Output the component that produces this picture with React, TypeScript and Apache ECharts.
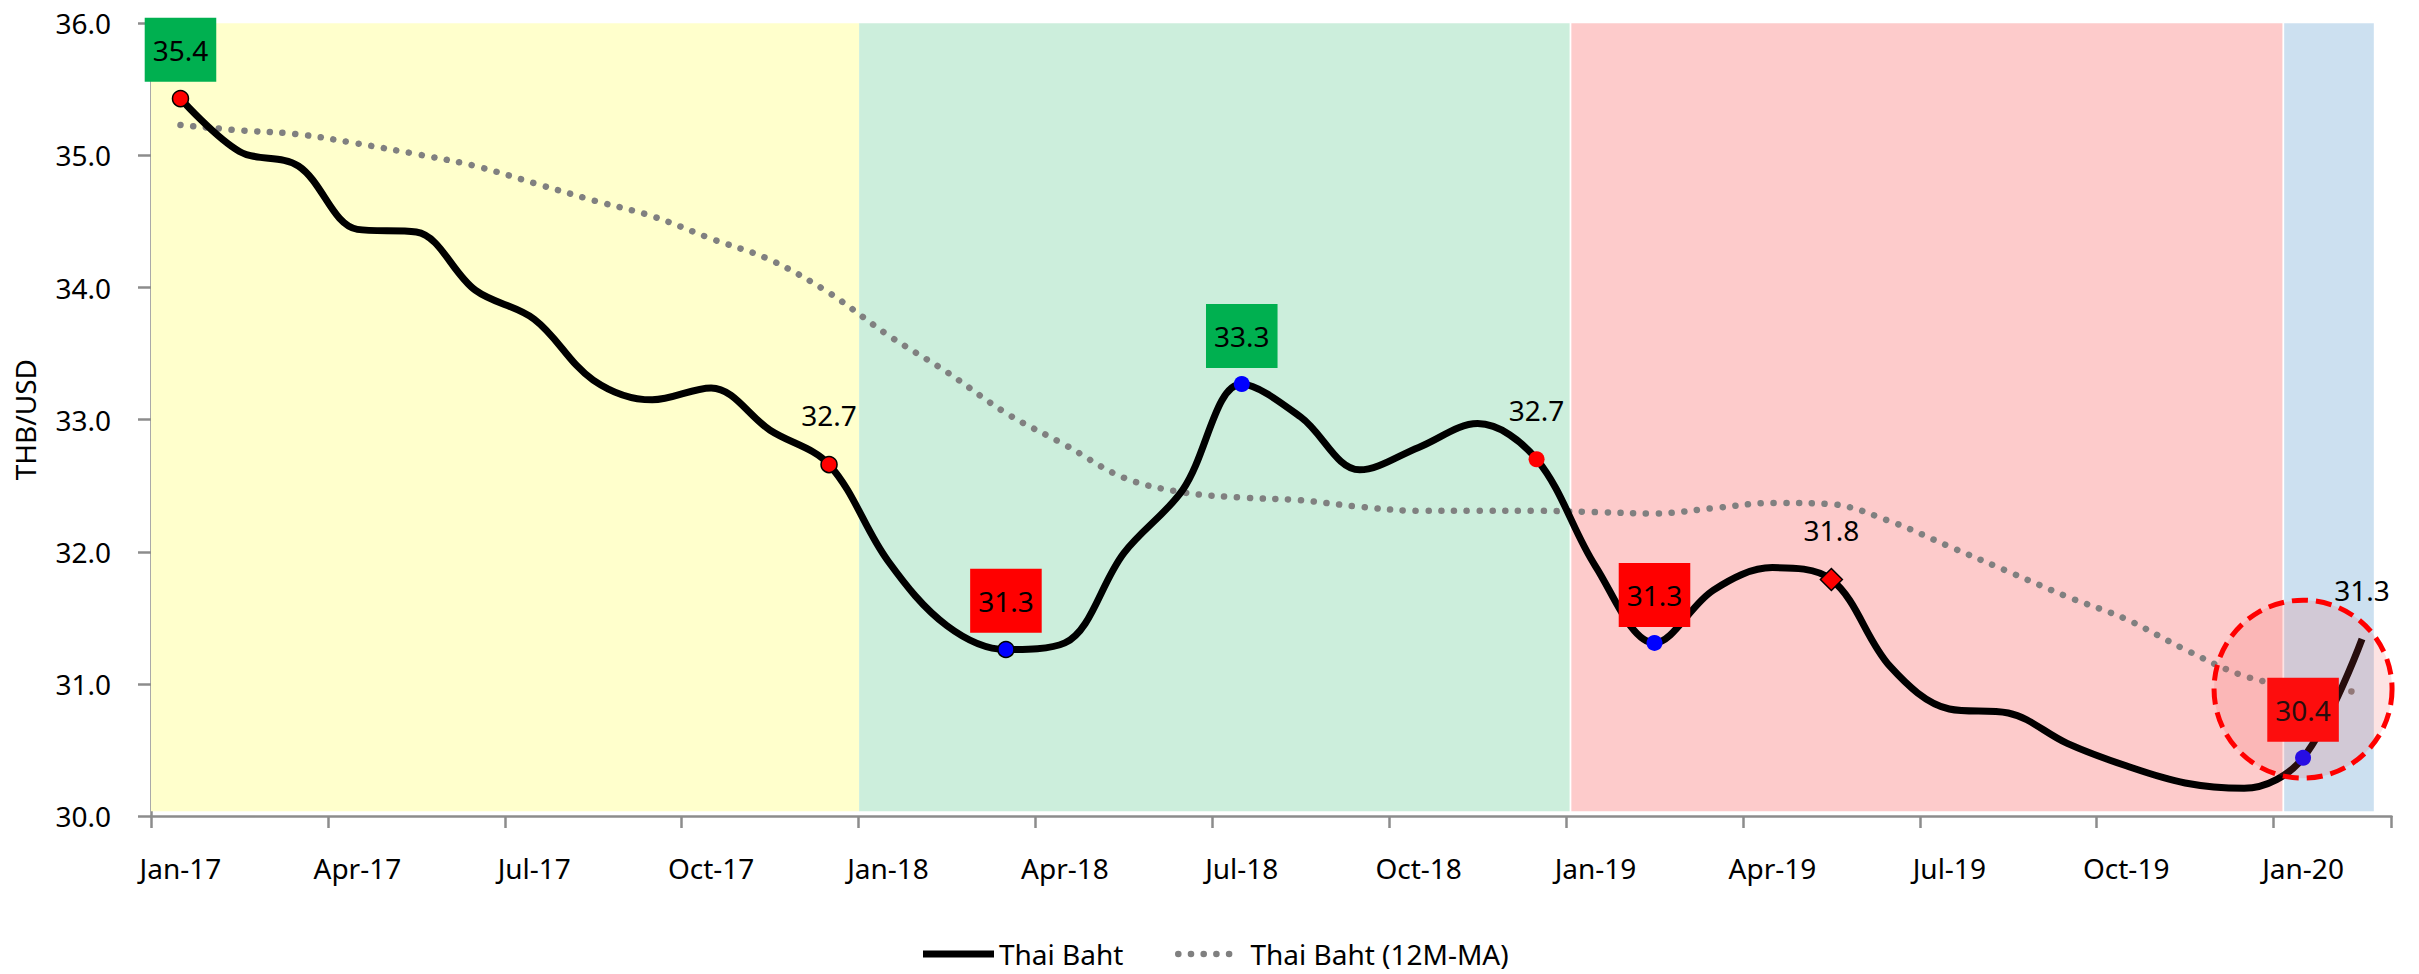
import React, { useEffect, useRef } from 'react';
import * as echarts from 'echarts';

const categories = [
  'Jan-17', 'Feb-17', 'Mar-17', 'Apr-17', 'May-17', 'Jun-17', 'Jul-17', 'Aug-17', 'Sep-17', 'Oct-17', 'Nov-17', 'Dec-17',
  'Jan-18', 'Feb-18', 'Mar-18', 'Apr-18', 'May-18', 'Jun-18', 'Jul-18', 'Aug-18', 'Sep-18', 'Oct-18', 'Nov-18', 'Dec-18',
  'Jan-19', 'Feb-19', 'Mar-19', 'Apr-19', 'May-19', 'Jun-19', 'Jul-19', 'Aug-19', 'Sep-19', 'Oct-19', 'Nov-19', 'Dec-19',
  'Jan-20', 'Feb-20',
];

const thaiBaht = [
  35.43, 35.03, 34.92, 34.44, 34.42, 33.98, 33.76, 33.30, 33.15, 33.24, 32.92, 32.66,
  31.93, 31.44, 31.26, 31.31, 31.99, 32.47, 33.27, 33.02, 32.62, 32.79, 32.97, 32.70,
  31.89, 31.31, 31.71, 31.88, 31.79, 31.13, 30.81, 30.78, 30.55, 30.38, 30.25, 30.21,
  30.44, 31.34,
];

const thaiBahtMA = [
  35.23, 35.19, 35.16, 35.09, 35.01, 34.92, 34.79, 34.66, 34.54, 34.37, 34.21, 33.96,
  33.64, 33.36, 33.05, 32.81, 32.56, 32.45, 32.41, 32.39, 32.34, 32.31, 32.31, 32.31,
  32.30, 32.29, 32.33, 32.37, 32.36, 32.23, 32.04, 31.85, 31.66, 31.49, 31.26, 31.06,
  30.97, 30.94,
];

// Background periods, in month units along the axis (0 = start of Jan-17)
const periodStart = [0, 12.01, 24.09, 36.18];
const periodEnd = [12.01, 24.06, 36.15, 37.7];

// Highlighted point (month index / value) for the dashed circle
const highlightMonth = 36.5;
const highlightValue = 30.96;

const yMin = 30;
const yMax = 36;
const yStep = 1;

const FONT = '"Noto Sans", sans-serif';
const periodColors = ['#FFFFCC', '#CCEEDC', '#FDCBCB', '#CCE0F0'];

type Mark = { symbol: string; color: string; border: boolean; size: number; box: string | null };
const marks: Record<number, Mark> = {
  0: { symbol: 'circle', color: '#FF0000', border: true, size: 16, box: '#00B050' },
  11: { symbol: 'circle', color: '#FF0000', border: true, size: 16, box: null },
  14: { symbol: 'circle', color: '#0000FF', border: true, size: 16, box: '#FF0000' },
  18: { symbol: 'circle', color: '#0000FF', border: false, size: 16, box: '#00B050' },
  23: { symbol: 'circle', color: '#FF0000', border: false, size: 16, box: null },
  25: { symbol: 'circle', color: '#0000FF', border: false, size: 16, box: '#FF0000' },
  28: { symbol: 'diamond', color: '#FF0000', border: true, size: 22, box: null },
  36: { symbol: 'circle', color: '#0000FF', border: false, size: 16, box: '#FF0000' },
  37: { symbol: 'circle', color: 'rgba(0,0,0,0)', border: false, size: 1, box: null },
};

// legend icon: five round dots
const dotR = 3.3;
const dotStep = 12.7;
const dotsIcon =
  'path://' +
  [0, 1, 2, 3, 4]
    .map((k) => {
      const cx = dotR + k * dotStep;
      return `M${cx - dotR},${dotR} a${dotR},${dotR} 0 1,0 ${2 * dotR},0 a${dotR},${dotR} 0 1,0 ${-2 * dotR},0 Z`;
    })
    .join(' ');

export default function App() {
  const ref = useRef<HTMLDivElement>(null);

  useEffect(() => {
    if (!ref.current) return;
    const chart = echarts.init(ref.current, null, { renderer: 'svg' });

    const mainData = thaiBaht.map((v, i) => {
      const m = marks[i];
      if (!m) return { value: v };
      const labelCommon = {
        show: true,
        position: 'top',
        formatter: (p: any) => Number(p.value).toFixed(1),
        fontSize: 28,
        lineHeight: 34,
        fontFamily: FONT,
        color: '#000',
      };
      const label = m.box
        ? { ...labelCommon, backgroundColor: m.box, padding: [15, 8, 15, 8], distance: 16 - m.size / 2 }
        : { ...labelCommon, distance: 32 - m.size / 2 };
      return {
        value: v,
        symbol: m.symbol,
        symbolSize: m.size,
        itemStyle: {
          color: m.color,
          borderColor: m.border ? '#000' : m.color,
          borderWidth: m.border ? 1.5 : 0,
          opacity: 1,
        },
        label,
      };
    });

    const bandAreas = periodStart.map((s, i) => [
      { xAxis: s, yAxis: 30.036, itemStyle: { color: periodColors[i] } },
      { xAxis: periodEnd[i], yAxis: yMax },
    ]);

    const legendText = { fontSize: 28, fontFamily: FONT, color: '#000', lineHeight: 30 };

    const option: any = {
      animation: false,
      backgroundColor: '#fff',
      textStyle: { fontFamily: FONT },
      grid: { left: 151, right: 27.5, top: 23.3, bottom: 158, containLabel: false },
      legend: [
        {
          data: [{ name: 'Thai Baht', icon: 'rect', itemStyle: { color: '#000' } }],
          top: 934,
          left: 918,
          itemWidth: 71,
          itemHeight: 7,
          textStyle: legendText,
        },
        {
          data: [{ name: 'Thai Baht (12M-MA)', icon: dotsIcon, itemStyle: { color: '#808080' } }],
          top: 934,
          left: 1170,
          itemWidth: 2 * dotR + 4 * dotStep,
          itemHeight: 2 * dotR,
          textStyle: { ...legendText, padding: [0, 0, 0, 13] },
        },
      ],
      xAxis: [
        {
          type: 'category',
          data: categories,
          boundaryGap: true,
          axisLine: { lineStyle: { color: '#8c8c8c', width: 2.5 } },
          axisTick: { show: true, interval: 2, length: 12, lineStyle: { color: '#8c8c8c', width: 2.5 } },
          axisLabel: { interval: 2, fontSize: 28, fontFamily: FONT, color: '#000', margin: 38 },
          splitLine: { show: false },
        },
        {
          type: 'value',
          min: 0,
          max: categories.length,
          show: false,
          splitLine: { show: false },
        },
      ],
      yAxis: {
        type: 'value',
        min: yMin,
        max: yMax,
        interval: yStep,
        name: 'THB/USD',
        nameLocation: 'middle',
        nameGap: 112,
        nameRotate: 90,
        nameTextStyle: { fontSize: 28, fontFamily: FONT, color: '#000' },
        axisLine: { show: true, lineStyle: { color: '#8c8c8c', width: 2.5 } },
        axisTick: { show: true, length: 13, lineStyle: { color: '#8c8c8c', width: 2.5 } },
        axisLabel: {
          formatter: (v: number) => v.toFixed(1),
          fontSize: 28,
          fontFamily: FONT,
          color: '#000',
          margin: 40,
        },
        splitLine: { show: false },
      },
      series: [
        {
          name: 'periods',
          type: 'line',
          xAxisIndex: 1,
          data: [],
          z: 1,
          silent: true,
          markArea: { silent: true, data: bandAreas, label: { show: false } },
        },
        {
          name: 'Thai Baht (12M-MA)',
          type: 'line',
          xAxisIndex: 0,
          data: thaiBahtMA,
          smooth: 0.35,
          symbol: 'none',
          z: 2,
          itemStyle: { color: '#808080' },
          lineStyle: { color: '#808080', width: 6.5, type: [0.1, 12.7], cap: 'round' },
        },
        {
          name: 'Thai Baht',
          type: 'line',
          xAxisIndex: 0,
          data: mainData,
          smooth: 0.35,
          symbol: 'none',
          showSymbol: true,
          z: 3,
          itemStyle: { color: '#000' },
          lineStyle: { color: '#000', width: 7 },
        },
        {
          name: 'highlight',
          type: 'line',
          xAxisIndex: 1,
          data: [],
          z: 5,
          silent: true,
          markPoint: {
            silent: true,
            symbol: 'circle',
            symbolSize: 178,
            label: { show: false },
            itemStyle: {
              color: 'rgba(240,82,82,0.16)',
              borderColor: '#FF0000',
              borderWidth: 5,
              borderType: [16, 8],
            },
            data: [{ coord: [highlightMonth, highlightValue] }],
          },
        },
      ],
    };

    chart.setOption(option);
    return () => chart.dispose();
  }, []);

  return (
    <div
      ref={ref}
      style={{ position: 'fixed', left: 0, top: 0, width: 2419, height: 974, background: '#fff' }}
    />
  );
}
